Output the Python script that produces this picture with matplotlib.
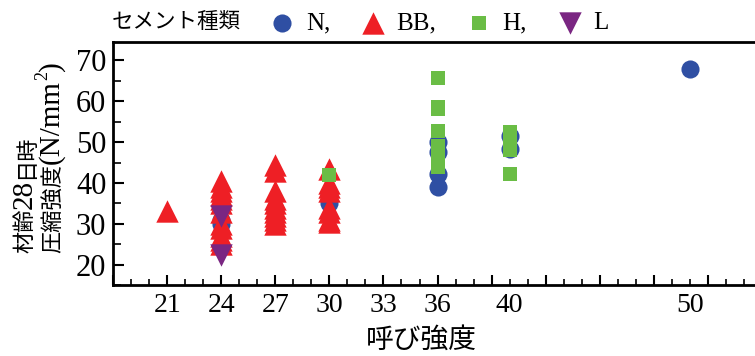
import matplotlib
matplotlib.use("Agg")
import matplotlib.pyplot as plt
from matplotlib.ticker import MultipleLocator, NullFormatter, FixedLocator

plt.rcParams['font.family'] = ['Liberation Serif', 'Noto Sans CJK JP', 'DejaVu Sans']

# 呼び強度 (nominal strength) and 28-day compressive strength by cement type
n_x = [24, 24, 27, 30, 30, 36, 36, 36, 36, 40, 40, 50]
n_y = [31, 30, 33.7, 37, 35, 50, 47.5, 42.3, 38.9, 51.6, 48.2, 68]

bb_x = [21,
        24, 24, 24, 24, 24, 24, 24, 24, 24, 24, 24, 24,
        27, 27, 27, 27, 27, 27, 27, 27, 27, 27,
        30, 30, 30, 30, 30, 30, 30, 30]
bb_y = [33.2,
        40.5, 39, 38, 37, 36, 35, 33, 30, 29, 27, 26, 25,
        44.3, 43, 38, 36, 35, 34, 33, 32, 31, 30,
        43.5, 40, 39, 38, 34, 33, 31, 30.5]

h_x = [30, 36, 36, 36, 36, 36, 36, 36, 36, 40, 40, 40, 40, 40]
h_y = [42, 65.8, 58.7, 58, 52.8, 49, 47, 45, 44, 52.5, 51, 49.5, 48, 42.1]

l_x = [24, 24]
l_y = [32, 22.5]

x_labels = [21, 24, 27, 30, 33, 36, 40, 50]
y_ticks = [20, 30, 40, 50, 60, 70]

fig = plt.figure(figsize=(7.55, 3.56), dpi=100)
ax = fig.add_axes([0.150, 0.199, 0.859, 0.683])

ax.scatter(n_x, n_y, marker='o', s=170, color='#2F4FA3', linewidths=0, zorder=3, label='N,')
ax.scatter(bb_x, bb_y, marker='^', s=260, color='#EE1F25', linewidths=0, zorder=4, label='BB,')
ax.scatter(h_x, h_y, marker='s', s=100, color='#6ABD45', linewidths=0, zorder=5, label='H,')
ax.scatter(l_x, l_y, marker='v', s=260, color='#7A2682', linewidths=0, zorder=6, label='L')

ax.set_xlim(18, 54)
ax.set_ylim(15, 74.5)

for side in ['left', 'bottom', 'top']:
    ax.spines[side].set_linewidth(2.0)
ax.spines['right'].set_visible(False)

# tick marks: every 1 along x (longer every 3); labels sit on their own axis
ax.xaxis.set_major_locator(MultipleLocator(3))
ax.xaxis.set_minor_locator(MultipleLocator(1))
ax.xaxis.set_major_formatter(NullFormatter())
ax.tick_params(axis='x', which='major', direction='in', length=7, width=1.5)
ax.tick_params(axis='x', which='minor', direction='in', length=4, width=1.2)

sec = ax.secondary_xaxis('bottom')
sec.xaxis.set_major_locator(FixedLocator(x_labels))
sec.set_xticklabels([str(v) for v in x_labels])
sec.tick_params(axis='x', length=0, pad=6, labelsize=20)
sec.spines['bottom'].set_visible(False)

fig.text(0.558, 0.042, '呼び強度', fontsize=20, ha='center', va='center')

ax.yaxis.set_major_locator(FixedLocator(y_ticks))
ax.yaxis.set_minor_locator(MultipleLocator(5))
ax.tick_params(axis='y', which='major', direction='in', length=8, width=1.5, labelsize=22, pad=5)
ax.tick_params(axis='y', which='minor', direction='in', length=6, width=1.2)

# two-line vertical y label, built from pieces so Latin text is larger than kana/kanji
renderer = fig.canvas.get_renderer()


def vertical_line(x, y, pieces):
    for text, size, lift in pieces:
        t = fig.text(x - lift, y, text, fontsize=size, rotation=90,
                     rotation_mode='anchor', ha='left', va='baseline')
        y += t.get_window_extent(renderer).height / fig.bbox.height


vertical_line(0.042, 0.289, [('材齢', 16, 0), ('28', 21, 0), ('日時', 16, 0)])
vertical_line(0.078, 0.289, [('圧縮強度', 16, 0), ('(N/mm', 21, 0), ('2', 13, 0.016), (')', 21, 0)])

fig.text(0.148, 0.935, 'セメント種類', fontsize=15.5, va='center', ha='left')
fig.legend(loc='center left', bbox_to_anchor=(0.357, 0.935), ncol=4, frameon=False,
           fontsize=18, handlelength=1.0, handletextpad=0.45, columnspacing=1.2,
           borderpad=0, borderaxespad=0, scatterpoints=1)

fig.savefig('out.png', dpi=100)
